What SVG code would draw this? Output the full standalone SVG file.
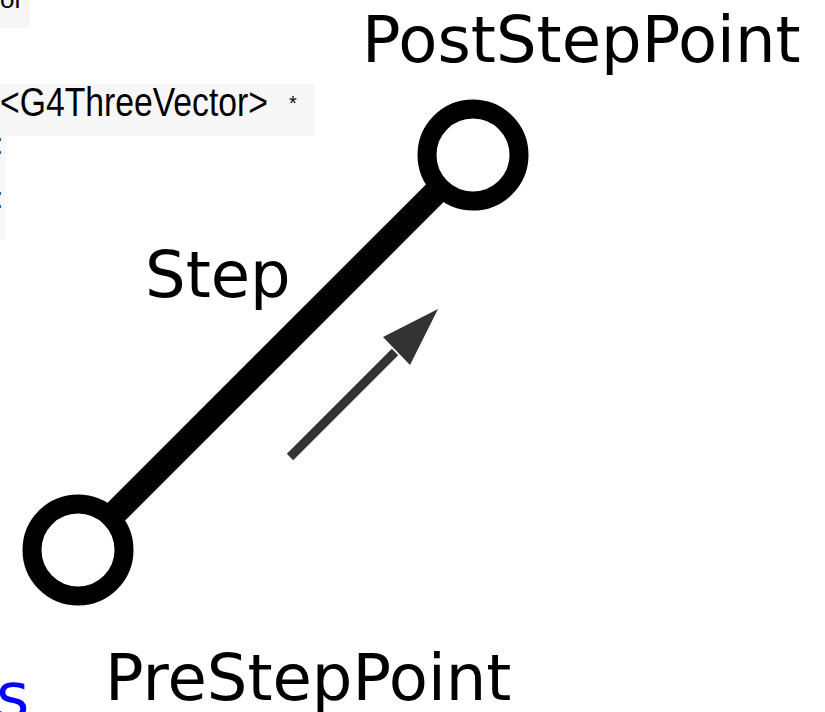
<svg xmlns="http://www.w3.org/2000/svg" width="825" height="712" viewBox="0 0 825 712">
<style>
.lbl{font-family:"DejaVu Sans","Verdana",sans-serif;font-size:64px;fill:#000}
.code{font-family:"Liberation Sans",Arial,sans-serif;fill:#000}
.ring{fill:#fff;stroke:#000;stroke-width:19}
</style>
<rect width="825" height="712" fill="#fff"/>
<g id="code-fragment">
<rect x="0" y="0" width="30" height="28" fill="#f7f7f7"/>
<rect x="0" y="84" width="315" height="52" fill="#f7f7f7"/>
<rect x="0" y="136" width="6" height="104" fill="#f8f8f8"/>
<text class="code" x="0" y="8" font-size="26">or</text>
<text class="code" x="0" y="116" font-size="40" textLength="268" lengthAdjust="spacingAndGlyphs">&lt;G4ThreeVector&gt;</text>
<text class="code" x="289" y="110" font-size="20">*</text>
<text class="code" x="-5" y="154" font-size="30">:</text>
<text class="code" x="-5" y="208" font-size="30">:</text>
</g>
<g id="connectors">
<line id="step-line" x1="78" y1="550" x2="473" y2="155" stroke="#000" stroke-width="25"/>
<g id="direction-arrow">
<line x1="290" y1="457" x2="395" y2="352" stroke="#333" stroke-width="9"/>
<polygon points="438,309 383,337 410,365" fill="#333"/>
</g>
</g>
<g id="post-step-point">
<circle class="ring" cx="473" cy="155" r="46"/>
<text class="lbl" x="362" y="62">PostStepPoint</text>
</g>
<g id="pre-step-point">
<circle class="ring" cx="78" cy="550" r="46"/>
<text class="lbl" x="105" y="700">PreStepPoint</text>
</g>
<g id="step-label">
<text class="lbl" x="145" y="297">Step</text>
</g>
<text x="-4" y="718" font-family="DejaVu Sans,Verdana,sans-serif" font-size="64" fill="#0000ff">s</text>
</svg>
